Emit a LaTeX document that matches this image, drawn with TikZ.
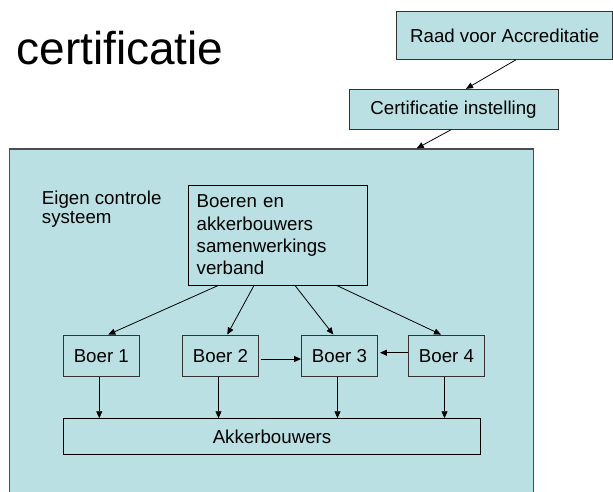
\documentclass[tikz,border=0pt]{standalone}
\usepackage{fontspec}
\setmainfont[Ligatures=NoCommon]{Liberation Sans}
\usetikzlibrary{arrows.meta,calc}
\definecolor{boxfill}{RGB}{187,224,227}
\begin{document}
\begin{tikzpicture}[x=1pt,y=-1pt,
  txt/.style={font=\fontsize{18.7}{22.4}\selectfont},
  box/.style={draw=black!80, line width=0.9pt, fill=boxfill, inner sep=0pt, txt},
  arr/.style={line width=0.8pt, -{Triangle[length=7pt,width=6pt]}}]

\useasboundingbox (0,0) rectangle (613,491);

% title
\node[anchor=base west, inner sep=0pt, font=\fontsize{46}{55}\selectfont] (title) at (16.3,64.3) {certificatie};

% outer organisations
\node[box, minimum width=216pt, minimum height=47.6pt] (raad) at (504.7,35.5) {Raad voor Accreditatie};
\node[box, minimum width=209pt, minimum height=40pt] (cert) at (453.5,109.3) {Certificatie instelling};

% own control system (runs past the lower edge)
\node[draw=black!70, line width=1.2pt, fill=boxfill, minimum width=524pt, minimum height=351pt, inner sep=0pt] (sys) at (271.3,324.5) {};

\node[anchor=north west, inner sep=0pt, align=left, font=\fontsize{18.7}{19}\selectfont] (eigen) at (41.7,191.1) {Eigen controle\\systeem};

\node[box, draw=black, text width=162.2pt, align=left, minimum height=100pt, inner xsep=8.4pt] (samen) at (277.8,235) {Boeren en\\akkerbouwers\\samenwerkings\\verband};

\node[box, minimum width=76pt, minimum height=41.7pt] (b1) at (101.3,355.85) {Boer 1};
\node[box, minimum width=76pt, minimum height=41.7pt] (b2) at (220.5,355.85) {Boer 2};
\node[box, minimum width=76pt, minimum height=41.7pt] (b3) at (339.5,355.85) {Boer 3};
\node[box, minimum width=76pt, minimum height=41.7pt] (b4) at (446.5,355.85) {Boer 4};

\node[box, draw=black, minimum width=417.4pt, minimum height=35.6pt] (akk) at (272,436.5) {Akkerbouwers};

% connectors
\draw[arr] ([xshift=11.3pt]raad.south) -- ([xshift=12.5pt]cert.north);
\draw[arr] ([xshift=-2.5pt]cert.south) -- ([xshift=145.4pt]sys.north);

\draw[arr] ([xshift=-59.5pt]samen.south) -- ([xshift=7pt]b1.north);
\draw[arr] ([xshift=-23.8pt]samen.south) -- ([xshift=6.8pt]b2.north);
\draw[arr] ([xshift=17.2pt]samen.south) -- ([xshift=-6.2pt]b3.north);
\draw[arr] ([xshift=58.9pt]samen.south) -- ([xshift=-5.5pt]b4.north);

\draw[arr] ([xshift=1.7pt,yshift=-3.15pt]b2.east) -- ([yshift=-3.15pt]b3.west);
\draw[arr] ([yshift=3.15pt]b4.west) -- ([xshift=2pt,yshift=3.15pt]b3.east);

\foreach \b in {b1,b2,b3,b4}
  \draw[arr] ([xshift=-2pt]\b.south) -- ([xshift=-2pt]\b.south |- akk.north);

\end{tikzpicture}
\end{document}
